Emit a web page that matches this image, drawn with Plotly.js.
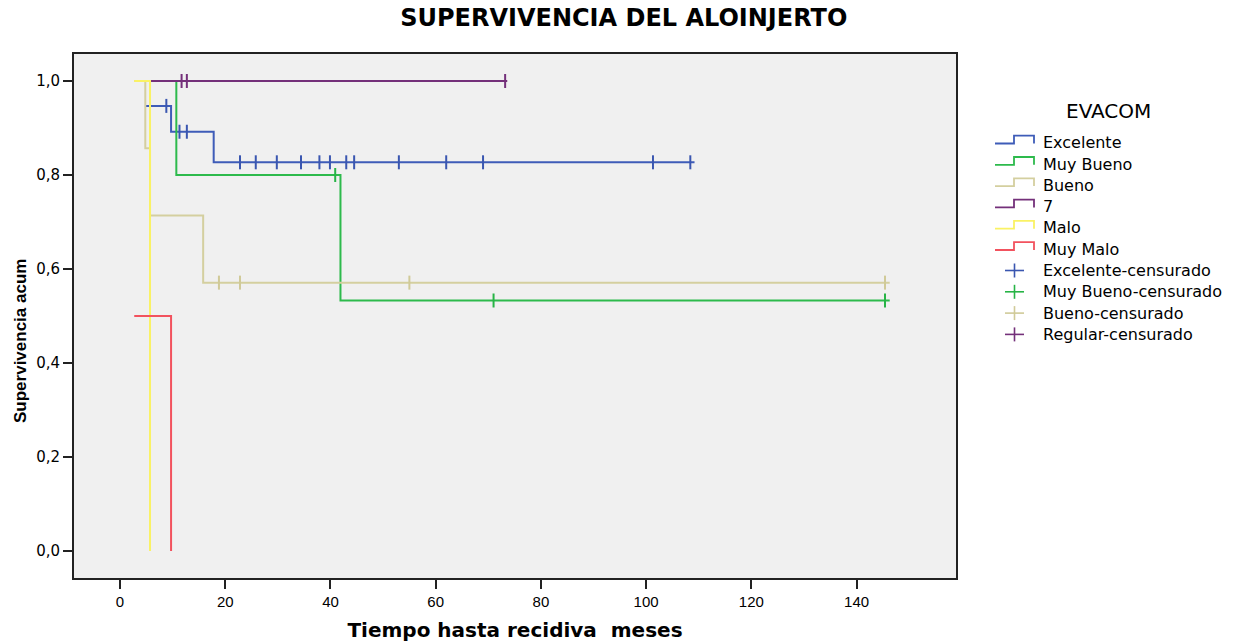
<!DOCTYPE html>
<html><head><meta charset="utf-8">
<script src="https://cdn.plot.ly/plotly-3.0.1.min.js"></script>
<style>body{margin:0;background:#fff}#chart{width:1234px;height:642px}</style>
</head><body><div id="chart"></div>
<script>
// ---- data ----
const groupNames = ["Excelente", "Muy Bueno", "Bueno", "7", "Malo", "Muy Malo"];
const censorNames = ["Excelente-censurado", "Muy Bueno-censurado", "Bueno-censurado", "Regular-censurado"];

const excTimes = [4.8, 9.7, 17.8, 109.2];
const excSurv  = [0.947, 0.892, 0.827, 0.827];
const excCensT = [8.8, 11.3, 12.7, 22.8, 25.8, 29.8, 34.4, 37.9, 39.9, 43.0, 44.5, 53.0, 62.0, 69.0, 101.3, 108.4];

const mbTimes = [5.7, 10.7, 41.9, 146.3];
const mbSurv  = [1.0, 0.8, 0.533, 0.533];
const mbCensT = [40.9, 71.0, 145.4];

const bTimes = [2.7, 4.8, 5.7, 15.8, 146.3];
const bSurv  = [1.0, 0.857, 0.714, 0.571, 0.571];
const bCensT = [18.8, 22.8, 55.0, 145.4];

const regTimes = [5.7, 73.6];
const regSurv  = [1.0, 1.0];
const regCensT = [11.7, 12.7, 73.2];

const maloTimes = [2.7, 5.7];
const maloSurv  = [1.0, 0.0];

const mmTimes = [2.7, 9.7];
const mmSurv  = [0.5, 0.0];

const xTickVals = [0, 20, 40, 60, 80, 100, 120, 140];
const yTickVals = [0, 0.2, 0.4, 0.6, 0.8, 1.0];
const yTickText = ["0,0", "0,2", "0,4", "0,6", "0,8", "1,0"];

// ---- styles ----
const lineColors = ["#3E5CB8", "#2DBA4C", "#D4CF9F", "#74307A", "#FAF264", "#F2525E"];
const censColors = ["#3A56B0", "#27B446", "#D0CA98", "#74307A"];

function survAt(times, surv, t) {
  let s = surv[0];
  for (let i = 0; i < times.length; i++) if (times[i] <= t) s = surv[i];
  return s;
}

const steps = [[excTimes, excSurv], [mbTimes, mbSurv], [bTimes, bSurv], [regTimes, regSurv], [maloTimes, maloSurv], [mmTimes, mmSurv]];
const cens = [[excCensT, 0], [mbCensT, 1], [bCensT, 2], [regCensT, 3]];

const traces = [];
steps.forEach((s, i) => {
  traces.push({x: s[0], y: s[1], mode: "lines", line: {shape: "hv", color: lineColors[i], width: 2},
    name: groupNames[i], showlegend: false, hoverinfo: "skip"});
});
cens.forEach((c, j) => {
  const st = steps[c[1]];
  traces.push({x: c[0], y: c[0].map(t => survAt(st[0], st[1], t)), mode: "markers",
    marker: {symbol: "line-ns", size: 10, line: {color: censColors[j], width: 2}},
    name: censorNames[j], showlegend: false, hoverinfo: "skip"});
});

// ---- custom legend (SPSS style) ----
const L = 74, R = 956, T = 54, B = 578;
const px = x => (x - L) / (R - L);
const py = y => (B - y) / (B - T);
const shapes = [], annotations = [];
const rowY0 = 142.7, rowStep = 21.3;
const legendItems = groupNames.map((n, i) => ({name: n, color: lineColors[i], kind: "step"}))
  .concat(censorNames.map((n, j) => ({name: n, color: censColors[j], kind: "cross"})));
legendItems.forEach((it, k) => {
  const y = rowY0 + k * rowStep;
  if (it.kind === "step") {
    const lo = y + 0.8, hi = y - 7;
    shapes.push({type: "path", xref: "paper", yref: "paper",
      path: `M ${px(995)},${py(lo)} L ${px(1014)},${py(lo)} L ${px(1014)},${py(hi)} L ${px(1034)},${py(hi)} L ${px(1034)},${py(lo)}`,
      line: {color: it.color, width: 1.8}});
  } else {
    shapes.push({type: "line", xref: "paper", yref: "paper", x0: px(1005), x1: px(1024), y0: py(y), y1: py(y), line: {color: it.color, width: 1.6}});
    shapes.push({type: "line", xref: "paper", yref: "paper", x0: px(1014.5), x1: px(1014.5), y0: py(y - 7), y1: py(y + 7), line: {color: it.color, width: 1.6}});
  }
  annotations.push({xref: "paper", yref: "paper", x: px(1041), y: py(y), xanchor: "left", yanchor: "middle",
    text: it.name, showarrow: false, font: {family: "DejaVu Sans", size: 16, color: "#000"}});
});
annotations.push({xref: "paper", yref: "paper", x: px(1108), y: py(111.5), xanchor: "center", yanchor: "middle",
  text: "EVACOM", showarrow: false, font: {family: "DejaVu Sans", size: 20, color: "#000"}});
// y-axis title, placed like the reference (slightly below plot centre)
annotations.push({xref: "paper", yref: "paper", x: px(21), y: py(341), xanchor: "center", yanchor: "middle",
  textangle: -90, text: "Supervivencia acum", showarrow: false,
  font: {family: "Liberation Sans", size: 17, weight: 700, color: "#000"}});

const layout = {
  width: 1234, height: 642,
  margin: {l: L, r: 1234 - R, t: T, b: 642 - B, pad: 0},
  paper_bgcolor: "#ffffff", plot_bgcolor: "#F0F0F0",
  title: {text: "SUPERVIVENCIA DEL ALOINJERTO", x: 0.5055, xanchor: "center", y: 0.972, yanchor: "middle",
    font: {family: "DejaVu Sans", size: 24, weight: 700, color: "#000"}},
  xaxis: {range: [-8.75, 158.9], tickvals: xTickVals, ticktext: xTickVals.map(String),
    showgrid: false, zeroline: false, showline: true, mirror: true, linecolor: "#222", linewidth: 2,
    ticks: "outside", ticklen: 9, tickwidth: 2, tickcolor: "#222",
    tickfont: {family: "Liberation Sans", size: 15, color: "#000"},
    title: {text: "Tiempo hasta recidiva \u00a0meses", standoff: 15, font: {family: "DejaVu Sans", size: 20, weight: 700, color: "#000"}}},
  yaxis: {range: [-0.0574, 1.0574], tickvals: yTickVals, ticktext: yTickText,
    showgrid: false, zeroline: false, showline: true, mirror: true, linecolor: "#222", linewidth: 2,
    ticks: "outside", ticklen: 9, tickwidth: 2, tickcolor: "#222",
    tickfont: {family: "DejaVu Sans", size: 15, color: "#000"}},
  shapes: shapes, annotations: annotations, showlegend: false
};
Plotly.newPlot("chart", traces, layout, {displayModeBar: false, staticPlot: true});
</script></body></html>
